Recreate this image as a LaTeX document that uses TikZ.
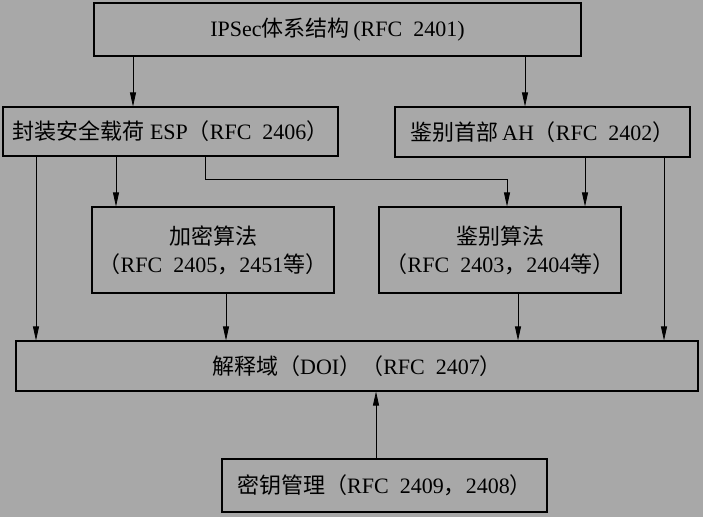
\documentclass[tikz,border=0pt]{standalone}
\usepackage{fontspec}
\setmainfont{Liberation Serif}
\newfontfamily\cjkfont{Noto Sans CJK SC}
\newcommand{\zhs}[1]{{\cjkfont #1}}
\usetikzlibrary{arrows.meta,calc}
\definecolor{bg}{RGB}{168,168,168}
\tikzset{
  box/.style={draw=black,line width=1.1pt,fill=bg,inner sep=0pt,align=center,
    font=\fontsize{22}{28}\selectfont},
  conn/.style={line width=0.8pt,-{Triangle[length=14pt,width=6pt]}}
}
\begin{document}
\begin{tikzpicture}[x=1pt,y=-1pt]
\fill[bg] (0,0) rectangle (703,517);
\useasboundingbox (0,0) rectangle (703,517);
\node[box,minimum width=487pt,minimum height=53pt] (top) at (337.5,29.5)
  {IPSec\zhs{体系结构}\,(RFC\enspace 2401)};
\node[box,minimum width=335pt,minimum height=49pt] (esp) at (170.5,131.5)
  {\zhs{封装安全载荷} ESP\zhs{（}RFC\enspace 2406\zhs{）}};
\node[box,minimum width=295pt,minimum height=50pt] (ah) at (542.5,132)
  {\zhs{鉴别首部}\,AH\zhs{（}RFC\enspace 2402\zhs{）}};
\node[box,minimum width=242pt,minimum height=86pt] (enc) at (213,250)
  {\zhs{加密算法}\\\zhs{（}RFC\enspace 2405\zhs{，}2451\zhs{等）}};
\node[box,minimum width=242pt,minimum height=86pt] (auth) at (500,250)
  {\zhs{鉴别算法}\\\zhs{（}RFC\enspace 2403\zhs{，}2404\zhs{等）}};
\node[box,minimum width=682pt,minimum height=50pt] (doi) at (357,366)
  {\zhs{解释域（}DOI\zhs{）（}RFC\enspace 2407\zhs{）}};
\node[box,minimum width=325pt,minimum height=53pt] (key) at (384.5,485.5)
  {\zhs{密钥管理（}RFC\enspace 2409\zhs{，}2408\zhs{）}};
\coordinate (x133) at (133,0);
\coordinate (x525) at (525,0);
\coordinate (x36) at (36,0);
\coordinate (x116) at (116,0);
\coordinate (x205) at (205,179);
\coordinate (x507) at (507,179);
\coordinate (x585) at (585,0);
\coordinate (x664) at (664,0);
\coordinate (x226) at (226,0);
\coordinate (x518) at (518,0);
\coordinate (x376) at (376,0);
\draw[conn] (x133 |- top.south) -- (x133 |- esp.north);
\draw[conn] (x525 |- top.south) -- (x525 |- ah.north);
\draw[conn] (x36 |- esp.south) -- (x36 |- doi.north);
\draw[conn] (x116 |- esp.south) -- (x116 |- enc.north);
\draw[conn] (x205 |- esp.south) -- (x205) -- (x507) -- (x507 |- auth.north);
\draw[conn] (x585 |- ah.south) -- (x585 |- auth.north);
\draw[conn] (x664 |- ah.south) -- (x664 |- doi.north);
\draw[conn] (x226 |- enc.south) -- (x226 |- doi.north);
\draw[conn] (x518 |- auth.south) -- (x518 |- doi.north);
\draw[conn] (x376 |- key.north) -- (x376 |- doi.south);
\end{tikzpicture}
\end{document}
